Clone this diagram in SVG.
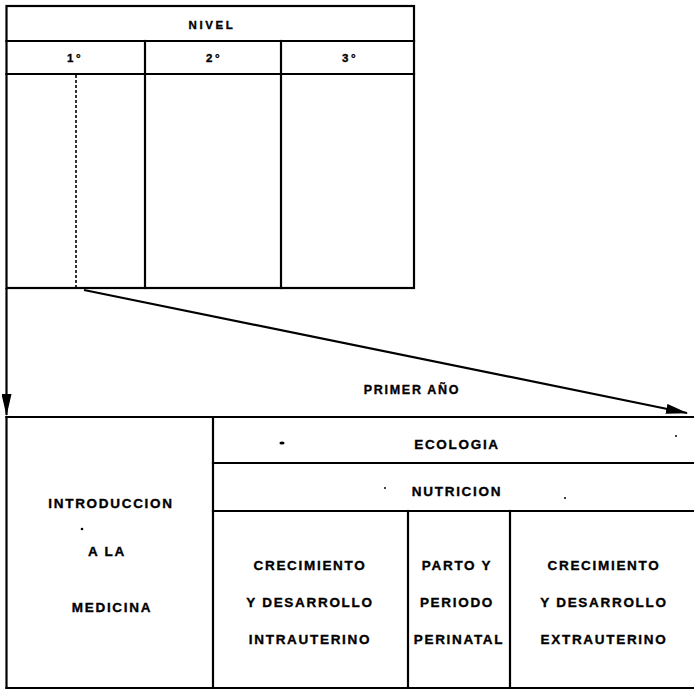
<svg xmlns="http://www.w3.org/2000/svg" width="694" height="689" viewBox="0 0 694 689">
<style>
.ln{stroke:#000;stroke-width:2.2;fill:none;stroke-linecap:square}
.t{font-family:"Liberation Sans",Arial,sans-serif;font-weight:bold;font-size:13.5px;letter-spacing:1.7px;text-anchor:middle;fill:#000;stroke:#000;stroke-width:0.35px}
.h{font-size:11.5px;letter-spacing:2.6px}
.dot{fill:#000}
</style>
<defs>
<marker id="ah2" markerWidth="22" markerHeight="10" refX="21" refY="5" orient="auto" markerUnits="userSpaceOnUse" viewBox="0 0 22 10">
<path d="M0,0 L22,5 L0,10 Z" fill="#000"/>
</marker>
</defs>
<rect width="694" height="689" fill="#fff"/>

<g id="nivel-table">
<rect class="ln" x="6.5" y="6" width="407.5" height="282"/>
<line class="ln" x1="6.5" y1="41" x2="414" y2="41"/>
<line class="ln" x1="6.5" y1="74" x2="414" y2="74"/>
<line class="ln" x1="145" y1="41" x2="145" y2="288"/>
<line class="ln" x1="281" y1="41" x2="281" y2="288"/>
<line x1="76" y1="75" x2="76" y2="288" stroke="#000" stroke-width="1.6" stroke-dasharray="3,2"/>
<text class="t h" x="212" y="29">NIVEL</text>
<text class="t h" x="75" y="62">1°</text>
<text class="t h" x="214" y="62">2°</text>
<text class="t h" x="350" y="62">3°</text>
</g>

<g id="connectors">
<line class="ln" x1="6.5" y1="288" x2="6.5" y2="415" marker-end="url(#ah2)" style="stroke-linecap:butt"/>
<line class="ln" x1="84" y1="290" x2="687" y2="413" stroke-width="2.6" marker-end="url(#ah2)" style="stroke-linecap:butt"/>
<text class="t" x="412" y="394" style="font-size:12.5px">PRIMER AÑO</text>
</g>

<g id="primer-ano-table">
<line class="ln" x1="6.5" y1="417" x2="694" y2="417"/>
<line class="ln" x1="6.5" y1="417" x2="6.5" y2="688"/>
<line class="ln" x1="6.5" y1="688" x2="694" y2="688"/>
<line class="ln" x1="213" y1="417" x2="213" y2="688"/>
<line class="ln" x1="213" y1="463" x2="694" y2="463"/>
<line class="ln" x1="213" y1="511" x2="694" y2="511"/>
<line class="ln" x1="408" y1="511" x2="408" y2="688"/>
<line class="ln" x1="510" y1="511" x2="510" y2="688"/>
</g>

<g id="intro">
<text class="t" x="111" y="508">INTRODUCCION</text>
<text class="t" x="107" y="556">A LA</text>
<text class="t" x="112" y="612">MEDICINA</text>
<circle class="dot" cx="82" cy="529" r="1.3"/>
</g>

<g id="ecologia">
<text class="t" x="457" y="449">ECOLOGIA</text>
<ellipse class="dot" cx="282" cy="443" rx="2.6" ry="1.6"/>
<circle class="dot" cx="676" cy="436" r="1"/>
</g>

<g id="nutricion">
<text class="t" x="457" y="496">NUTRICION</text>
<circle class="dot" cx="385" cy="488" r="1"/>
<circle class="dot" cx="565" cy="498" r="1"/>
</g>

<g id="crec-intra">
<text class="t" x="310" y="570">CRECIMIENTO</text>
<text class="t" x="310" y="607">Y DESARROLLO</text>
<text class="t" x="310" y="644">INTRAUTERINO</text>
</g>

<g id="parto">
<text class="t" x="457" y="570">PARTO Y</text>
<text class="t" x="457" y="607">PERIODO</text>
<text class="t" x="459" y="644">PERINATAL</text>
</g>

<g id="crec-extra">
<text class="t" x="604" y="570">CRECIMIENTO</text>
<text class="t" x="604" y="607">Y DESARROLLO</text>
<text class="t" x="604" y="644">EXTRAUTERINO</text>
</g>
</svg>
